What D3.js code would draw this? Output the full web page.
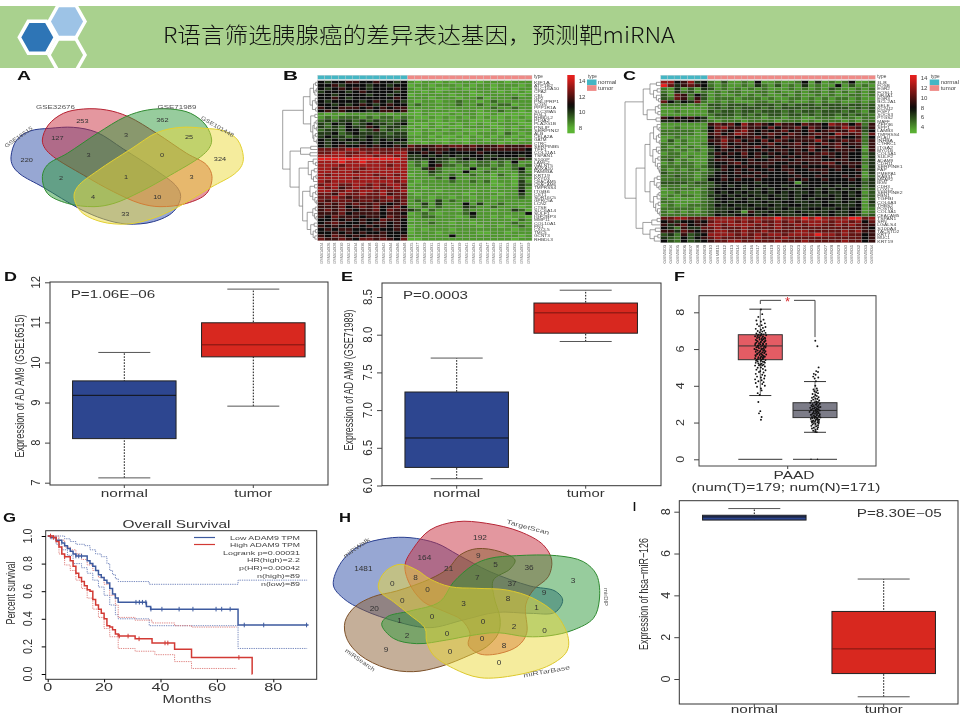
<!DOCTYPE html>
<html><head><meta charset="utf-8">
<script src="https://cdn.jsdelivr.net/npm/d3@7/dist/d3.min.js"></script>
<style>html,body{margin:0;padding:0;background:#fff}svg{display:block;font-family:"Liberation Sans",Arial,sans-serif}</style>
</head><body><svg id="c" width="960" height="720"></svg>
<script>
/* ---------- DATA ---------- */
const titleText="R语言筛选胰腺癌的差异表达基因，预测靶miRNA";
// panel A venn
const vennASets=["GSE16515","GSE32676","GSE71989","GSE101448"];
const vennALabels=[[80,479,"220"],[247,363,"253"],[487,361,"362"],[660,477,"324"],[172,415,"127"],[378,404,"3"],[567,411,"25"],[266,464,"3"],[486,464,"0"],[183,535,"2"],[378,532,"1"],[575,531,"3"],[279,592,"4"],[472,592,"10"],[376,643,"33"]];
const aBlue=[[33,470],[50,420],[90,393],[150,385],[220,382],[290,397],[370,447],[470,512],[530,560],[542,590],[520,635],[460,665],[380,672],[310,657],[240,627],[130,562],[60,522],[38,497]];
const aRed=[[127,420],[145,375],[190,340],[250,327],[320,330],[385,350],[470,400],[560,460],[620,495],[636,530],[620,580],[560,610],[480,620],[420,610],[340,575],[250,525],[160,470],[135,445]];
const aGreen=[[635,420],[617,375],[572,340],[512,327],[442,330],[377,350],[292,400],[202,460],[142,495],[127,530],[142,580],[202,610],[282,620],[342,610],[422,575],[512,525],[602,470],[627,445]];
const aYellow=[[730,470],[713,420],[673,393],[613,385],[543,382],[473,397],[393,447],[293,512],[233,560],[222,590],[243,635],[303,665],[383,672],[453,657],[523,627],[633,562],[703,522],[725,497]];
// panel H venn
const vennHLabels=[[100,190,"1481"],[450,98,"192"],[283,156,"164"],[445,150,"9"],[356,190,"21"],[497,178,"5"],[597,186,"36"],[729,226,"3"],[257,217,"8"],[187,236,"0"],[293,253,"0"],[442,218,"7"],[546,236,"37"],[642,263,"9"],[217,287,"0"],[401,294,"3"],[534,280,"8"],[620,308,"1"],[133,311,"20"],[306,334,"0"],[209,347,"1"],[459,349,"0"],[231,390,"2"],[351,386,"0"],[552,365,"2"],[644,375,"0"],[456,400,"0"],[522,422,"8"],[168,434,"9"],[360,440,"0"],[507,473,"0"]];
const hBlue=[[10,240],[35,170],[90,122],[170,100],[240,98],[320,115],[385,150],[480,200],[600,243],[675,258],[698,285],[675,322],[600,325],[500,322],[400,345],[300,368],[200,350],[100,315],[40,280]];
const hRed=[[225,180],[250,130],[300,75],[380,50],[470,55],[570,80],[640,120],[665,165],[655,215],[610,255],[587,300],[590,385],[565,422],[510,445],[450,447],[415,420],[420,385],[395,345],[340,318],[280,290],[238,235]];
const hBrown=[[45,350],[75,305],[130,275],[200,258],[300,222],[355,190],[390,150],[440,131],[510,140],[555,165],[540,192],[490,225],[492,275],[510,340],[505,385],[470,425],[420,450],[330,485],[250,500],[170,490],[90,450],[50,400]];
const hGreen=[[370,232],[430,180],[480,160],[560,152],[680,152],[760,170],[800,210],[808,285],[790,340],[730,375],[660,392],[590,395],[500,383],[420,392],[350,405],[260,416],[190,400],[155,358],[172,335],[240,318],[330,290]];
const hYellow=[[145,240],[165,200],[210,178],[260,195],[300,222],[360,245],[440,250],[530,255],[610,280],[680,330],[715,400],[710,440],[660,480],[560,510],[450,518],[370,490],[310,450],[290,410],[285,370],[240,330],[190,290],[150,260]];
// heat map B
const bLevels=[8,8.1,8.5,9.3,10.1,10.9,11.7,12.5,13.4,14.6];
const bRows=[
"5455665565545212212122212221222","5564555455455122122212122122212","5456565455565212211221222122122","4555456555545221212222122212121",
"5545555455455122222122112222212","5565455555565222122212231222322","5455554565454212212232212322222","5545456545655232222232232233122",
"6556665656566222212222222322322","5646555456656212222122212232212","2121222222122112111212211211111","2323332323323211212121212112121",
"3434434343334122112122111212112","4354534544345211211212121122211","4343544653443121212112222112121","3443553463433212121221111212122",
"4453454444344112212212122213212","4544344544444222121121212122121","5454554545455212211211221221212","5455445545544221221221222212122",
"5456556565565766676776766676667","7777887777777665666566656666665","7788778787788556565555565555555","8888788878878445454544554455545",
"9999999999998444544345454544464","8889889888888232543233233232522","8887888888788232563323233232323","8878887888888224632222522322352",
"8888878888888222432225223222242","8788888878878122322322322132133","8888878887888222232522222122132","8788888888878212222322323122142",
"7887788787887122222222222112143","8786787787787221222222222222242","8877878878778122212222122122252","7768778778677212222221222212242",
"7787677777877222122122122122232","7677767767767232242322222222222","6767676676567224242225242232222","6667567675675223232224322322212",
"6767656675766431322213222122431","6667566665665123212223522222225","6576665665766223322212422121221","5565656557665122222222222222132",
"5676556566565222322122122222322","6565565656565122222222212212232","5656655565565121222122222222122","5565656556555122212222211221222",
"6576565666556222222522222222212","7667657767657112222222222222122"];
const bNames=["KIF1A","ATP1B2","SLC16A10","CPA2","CEL","GP2","PNLIPRP1","SCGN","PPP1R1A","SLC39A5","FGL1","RHBDL2","PDIA2","PLA2G1B","PNLIP","SERPINI2","ALB","CELA2A","GATM","CTRC","SERPINB5","TFF1","COL11A1","TSPAN1","S100P","LAMC2","GALNT5","ANXA10","FAM83A","KRT19","FXYD3","CEACAM5","CEACAM6","TMPRSS4","ITGB6","CST1","SDR16C5","GPRC5A","LCN2","CTSE","SLC6A14","SULF1","IGF2BP3","MMP11","COL10A1","FN1","CXCL5","TMC5","GCNT3","RHBDL3"];
const bCols=["GSM414924","GSM414926","GSM414928","GSM414930","GSM414932","GSM414934","GSM414936","GSM414938","GSM414940","GSM414942","GSM414944","GSM414946","GSM414948","GSM414925","GSM414927","GSM414929","GSM414931","GSM414933","GSM414935","GSM414937","GSM414939","GSM414941","GSM414943","GSM414945","GSM414947","GSM414949","GSM414951","GSM414953","GSM414955","GSM414957","GSM414959"];
const bTree=[1,[.41,[.22,[.12,[.06,0,0],[.08,[.04,0,0],0]],[.15,[.07,0,[.03,0,0]],[.06,0,0]]],[.2,[.08,0,0],[.14,[.1,[.05,0,0],[.04,0,0]],[.11,[.06,0,0],[.04,0,0]]]]],[.79,[.49,[.2,0,0],[.22,0,0]],[.53,[.27,[.13,0,[.06,0,0]],[.18,[.1,0,0],[.12,[.05,0,0],0]]],[.43,[.22,[.09,0,0],[.14,[.06,0,0],[.08,0,[.04,0,0]]]],[.3,[.14,[.07,0,0],[.09,0,[.05,0,0]]],[.2,[.1,0,0],[.13,[.06,0,0],[.08,0,0]]]]]]]];
// heat map C
const cLevels=[3.2,4,5,6,7,8,9.3,10.6,12,14.5];
const cRows=[
"88568452131121511211251412125112","97467652121121421312141211513121","21413143121212121112121213211212","21423121212211221211212212121212",
"31762531211212121121211212112212","32762631222122212112212121221211","75354721212111221212112121211212","22221213323332333232333233323323",
"11111112323233323233323323332323","11211113233233233323233233323213","11111112333232323323323233232322","65656541222122212212211222122122",
"44545432122212222122212122212122","11111116767586765766576658775726","11211115786676657566757656687636","22222125765786565675657567668735",
"22222116756876567657656765876727","11211115676566756576667567655625","13121116686756575765666865676726","22121125675665567566756576756626",
"21212114576566756656667656765616","22121213565665565665657565666516","12211114656575656565665676565524","22212113565565645656566656565 14".replace(" ","5"),
"23121114666556556665666655665524","12122114556756666556656677566624","22222124565565565565565556656514","21212213465656556566556665655624",
"32222123555655655556555565555514","22322124565566565555655655565613","22222125565655655556565565556524","33332333555555455555155555555534",
"22212223454545545545545545454524","12222124555545454554455454545423","11211123545454454545445454454513","12122124454545445445455445454523",
"21111123555454545545454555455413","22111123454554454455445454454514","12112223545445445445544455444513","22222123444544554454445544545512",
"21212123445416445444544445445412","22222223544545454544454545445423","77887778888888888988898988889978","56455657888787877878788887887857",
"64675668878888787877878877878766","54264477877787777877777777777765","66476567887787787777887777787866","34263458888787878878888988787756",
"43253567877777877787777777777756","53253456778877777877787777787756"];
const cNames=["IL8","FOSB","EGR2","FOSL1","NR4A1","EGR3","BCL2A1","SELE","KCNJ2","FGF7","SOCS3","PTGS2","MAFF","ZFP36","SPP1","LAMB3","TMPRSS4","PLAU","INHBA","CTHRC1","ITGA2","MYO1B","COL5A1","SULF2","ADAM9","CDH11","SERPINE1","FAP","PMEPA1","RAB31","MFAP2","BGN","CDH3","LOXL2","SERPINE2","FBN1","TGFBI","COL6A3","THBS2","POSTN","COL3A1","CEACAM5","TSPAN1","SFN","LGALS4","S100A4","TACSTD2","KRT7","MUC1","KRT19"];
const cCols=["GSM803","GSM804","GSM805","GSM806","GSM807","GSM808","GSM809","GSM810","GSM811","GSM812","GSM813","GSM814","GSM815","GSM816","GSM817","GSM818","GSM819","GSM820","GSM821","GSM822","GSM823","GSM824","GSM825","GSM826","GSM827","GSM828","GSM829","GSM830","GSM831","GSM832","GSM833","GSM834"];
const cTree=[1,[.49,[.3,[.12,0,0],[.2,[.1,0,0],[.12,0,[.06,0,0]]]],[.38,[.15,[.07,0,0],[.08,0,0]],[.13,0,0]]],[.69,[.44,[.3,[.2,[.1,0,[.05,0,0]],[.12,[.06,0,0],[.04,0,0]]],[.22,[.12,0,[.07,0,0]],[.15,[.08,0,0],[.09,0,[.05,0,[.03,0,0]]]]]],[.3,[.18,[.1,0,0],[.11,0,[.05,0,0]]],[.2,[.1,[.05,0,0],0],[.14,[.07,0,0],[.09,0,[.04,0,0]]]]]],[.5,[.25,[.1,0,0],0],[.3,[.15,0,0],[.18,[.08,0,0],0]]]]];
const typeNames=["normal","tumor"];
// box stats: [low whisker, q1, median, q3, high whisker]
const dStats=[[7.12,8.1,9.18,9.54,10.25],[8.91,10.14,10.44,10.99,11.83]];
const eStats=[[6.09,6.24,6.63,7.24,7.69],[7.91,8.02,8.29,8.42,8.59]];
const iStats=[[7.6,7.6,7.75,7.83,8.15],[-.85,.26,1.44,3.23,4.78]];
const fStats=[[3.47,5.42,6.17,6.78,8.17],[1.47,2.27,2.66,3.08,4.23]];
const dTicks=[7,8,9,10,11,12], eTicks=[6,6.5,7,7.5,8,8.5], fTicks=[0,2,4,6,8], iTicks=[0,2,4,6,8];
// panel F jittered expression: value, jitter
const fTumor=[8.15,.1,7.9,.3,7.75,-.3,7.6,.5,7.55,-.6,7.5,.1,7.4,.7,7.35,-.5,7.3,.2,7.25,-.2,7.2,.8,7.15,.4,7.1,-.7,7.05,.1,7.0,.6,6.98,-.4,6.95,.3,6.9,-.1,6.88,.8,6.85,-.6,6.82,.2,6.8,.5,6.78,-.3,6.75,.9,6.72,0,6.7,-.8,6.68,.4,6.65,-.2,6.62,.7,6.6,-.5,6.58,.2,6.55,.5,6.52,-.1,6.5,-.7,6.48,.3,6.45,.8,6.42,-.4,6.4,.1,6.38,.6,6.35,-.6,6.32,-.2,6.3,.4,6.28,.9,6.25,0,6.22,-.8,6.2,.3,6.18,-.4,6.15,.6,6.12,.1,6.1,-.6,6.08,.8,6.05,-.2,6.02,.4,6,-.9,5.98,.2,5.95,.6,5.92,-.4,5.9,0,5.88,.8,5.85,-.7,5.82,.3,5.8,-.2,5.78,.6,5.75,.1,5.72,-.5,5.7,.9,5.68,-.1,5.65,.4,5.62,-.7,5.6,.2,5.58,.7,5.55,-.3,5.52,.5,5.5,-.8,5.48,0,5.45,.4,5.42,-.5,5.4,.8,5.35,.1,5.32,-.4,5.3,.6,5.25,-.7,5.2,.2,5.15,.5,5.12,-.2,5.1,-.8,5.05,.7,5,.1,4.98,-.4,4.92,.4,4.88,-.6,4.85,.8,4.8,0,4.75,-.2,4.72,.5,4.65,-.7,4.6,.3,4.55,.7,4.5,-.5,4.45,.1,4.4,.6,4.35,-.8,4.3,.2,4.25,-.3,4.2,.5,4.15,-.7,4.1,.3,4.0,.7,3.95,-.5,3.85,.1,3.75,.2,3.6,-.4,3.5,-.1,3.12,-.3,2.62,0,2.5,-.2,2.3,.2,2.15,.1,
6.77,.15,6.71,-.45,6.66,.35,6.61,-.15,6.56,.75,6.51,.25,6.46,-.55,6.41,.65,6.36,.05,6.31,-.75,6.26,.45,6.21,-.25,6.16,.85,6.11,-.35,6.06,.55,6.01,.15,5.96,-.65,5.91,.45,5.86,-.05,5.81,.65,5.76,-.45,5.71,.25,5.66,-.75,5.61,.55,5.56,.05,5.51,.35,5.46,-.35,5.41,.15,5.36,-.65,5.31,.4,5.26,.7,5.21,-.3,5.16,0,5.11,.3];
const fNormal=[6.45,.05,6.15,.4,5.0,.6,4.8,.2,4.75,.5,4.65,-.2,4.6,.1,4.5,-.3,4.45,.55,4.4,-.05,4.25,.15,4.0,.05,3.85,.3,3.8,-.25,3.75,.4,3.7,-.1,3.65,.2,3.6,.5,3.55,-.4,3.5,.05,3.45,.3,3.4,-.2,3.38,.6,3.35,-.5,3.3,.1,3.28,.4,3.25,-.3,3.2,.7,3.18,-.6,3.15,.2,3.12,.5,3.1,-.1,3.08,-.8,3.05,.3,3.02,.8,3,-.4,2.98,.1,2.95,.6,2.92,-.6,2.9,-.2,2.88,.4,2.85,.9,2.82,0,2.8,-.8,2.78,.3,2.75,-.4,2.72,.6,2.7,.1,2.68,-.6,2.65,.8,2.62,-.2,2.6,.4,2.58,-.9,2.55,.2,2.52,.6,2.5,-.4,2.48,0,2.45,.8,2.42,-.7,2.4,.3,2.38,-.2,2.35,.6,2.32,.1,2.3,-.5,2.28,.9,2.25,-.1,2.22,.4,2.2,-.7,2.18,.2,2.15,.7,2.12,-.3,2.1,.5,2.08,-.6,2.05,0,2.02,.4,2,-.5,1.95,.6,1.92,.1,1.9,-.4,1.85,.5,1.82,-.6,1.8,.2,1.75,.5,1.72,-.2,1.68,-.5,1.65,.4,1.6,.1,1.55,-.3,1.5,.05,1.48,.3,
2.97,.25,2.87,-.45,2.83,.65,2.77,-.15,2.73,.35,2.67,-.7,2.63,.15,2.57,.55,2.53,-.25,2.47,.35,2.43,-.55,2.37,.75,2.33,-.1,2.27,.25,2.23,-.45,2.17,.5,2.13,.1,2.07,-.35,2.03,.65,1.97,-.2];
// panel G survival
const lowT=[0,1,3,5,6,7,8,9,10,14,15,16,17,18,19,20,21,22,23,24,25,35,36.5,67.5,92.5];
const lowS=[1,.99,.97,.95,.93,.91,.89,.87,.855,.82,.80,.78,.75,.72,.70,.68,.66,.62,.58,.55,.52,.49,.47,.355,.355];
const lowUpT=[1,4,6,8,10,13,15,17,19,21,22,23,24,25,36,67.5,92];
const lowUpS=[1,1,.98,.96,.94,.93,.9,.87,.85,.80,.75,.72,.69,.67,.65,.68,.68];
const lowLoT=[1,3,5,7,9,12,14,16,18,20,22,24,25,36,67.5,92];
const lowLoS=[.98,.94,.9,.86,.8,.77,.73,.68,.63,.57,.50,.43,.40,.35,.185,.185];
const highT=[0,2,3,4,5,6,8,9,10,11,12,13,14,15,16,17,18,19,20,21,22,23,24,25,31,37,45,51,72.5,72.6];
const highS=[1,.99,.96,.92,.87,.85,.82,.78,.73,.70,.67,.64,.61,.60,.54,.50,.47,.44,.40,.35,.34,.32,.29,.275,.255,.225,.18,.12,0,0];
const highUpT=[2,4,6,8,10,12,14,16,18,20,22,24,25,31,37,45,51,67];
const highUpS=[1,.97,.92,.9,.87,.83,.79,.75,.70,.65,.57,.50,.41,.39,.37,.35,.34,.34];
const highLoT=[2,4,6,8,10,12,14,16,18,20,22,25,31,38,45,51,67];
const highLoS=[.98,.87,.79,.75,.68,.62,.55,.47,.41,.33,.27,.185,.165,.14,.09,.04,.04];
const lowCensor=[[10,.855],[11,.855],[12,.855],[31.3,.52],[32.5,.52],[33.6,.52],[34.8,.52],[36.6,.47],[40.5,.47],[46.6,.47],[51.5,.47],[59.7,.47],[61.7,.47],[64.7,.47],[69.7,.355],[76.6,.355],[91.8,.355]];
const highCensor=[[1,1],[2,.99],[6,.85],[25.4,.275],[28.5,.275],[32.4,.255],[41.6,.225],[42.6,.225],[67.8,.12]];
const gYTicks=[0,.2,.4,.6,.8,1], gXTicks=[0,20,40,60,80];
const gLegend=["Low ADAM9 TPM","High ADAM9 TPM","Logrank p=0.00031","HR(high)=2.2","p(HR)=0.00042","n(high)=89","n(low)=89"];

/* ---------- HELPERS ---------- */
const svg=d3.select("#c");
const root=svg.append("g").style("filter","blur(0.4px)");
function txt(g,x,y,s,o={}){
  const t=g.append("text").attr("x",0).attr("y",0).attr("dominant-baseline","central")
    .attr("text-anchor",o.anchor||"middle").attr("font-size",o.size||10).attr("fill",o.fill||"#222").text(s);
  if(o.weight)t.attr("font-weight",o.weight);
  if(o.family)t.style("font-family",o.family);
  if(o.len)t.attr("textLength",o.len).attr("lengthAdjust","spacingAndGlyphs");
  t.attr("transform",`translate(${x},${y})`+(o.rot?` rotate(${o.rot})`:""));
  return t;
}
function letter(x,y,s,w){txt(root,x,y,s,{anchor:"start",size:12,weight:"bold",fill:"#111",len:w});}

/* ---------- HEADER ---------- */
root.append("rect").attr("x",0).attr("y",6).attr("width",960).attr("height",62).attr("fill","#a9d18e");
const clip=svg.append("clipPath").attr("id","hd");clip.append("rect").attr("x",0).attr("y",6).attr("width",960).attr("height",62);
const hg=root.append("g").attr("clip-path","url(#hd)");
const hexPath=(cx,cy,w,h)=>d3.line()([[cx-w,cy],[cx-w/2,cy-h],[cx+w/2,cy-h],[cx+w,cy],[cx+w/2,cy+h],[cx-w/2,cy+h]])+"Z";
hg.append("path").attr("d",hexPath(67,55,18,16)).attr("fill","none").attr("stroke","#fff").attr("stroke-width",3.5);
hg.append("path").attr("d",hexPath(37.3,37.3,18,16)).attr("fill","#2e75b6").attr("stroke","#fff").attr("stroke-width",3.5);
hg.append("path").attr("d",hexPath(67,21.5,18,16)).attr("fill","#9dc3e6").attr("stroke","#fff").attr("stroke-width",3.5);
txt(svg,163,33,titleText,{anchor:"start",size:21.5,fill:"#111",family:'"Noto Sans CJK SC","Noto Sans",sans-serif',len:512}).attr("font-weight",300);

/* ---------- LETTERS ---------- */
letter(17,76,"A",14);letter(283,76,"B",15);letter(623,76,"C",13);letter(4,277,"D",13);letter(341,277,"E",12);letter(674,277,"F",11);letter(3,518,"G",13);letter(339,518,"H",12);letter(633,507,"I",3);

/* ---------- VENN A ---------- */
const vx=d3.scaleLinear().domain([0,840]).range([0,280]), vy=d3.scaleLinear().domain([0,720]).range([0,240]);
const va=root.append("g");
const aLine=d3.line().curve(d3.curveCatmullRomClosed.alpha(.5)).x(d=>vx(d[0])).y(d=>vy(d[1]));
[[aBlue,"#2f4fa8","#26388c"],[aRed,"#c9303f","#b52030"],[aGreen,"#2f9a3c","#2f8a30"],[aYellow,"#ecd93c","#e2d030"]]
  .forEach(s=>va.append("path").attr("d",aLine(s[0])).attr("fill",s[1]).attr("fill-opacity",.5).attr("stroke",s[2]).attr("stroke-width",1));
vennALabels.forEach(l=>txt(va,vx(l[0]),vy(l[1]),l[2],{size:6,fill:"#333",len:l[2].length*4.1}));
txt(va,18.5,137,vennASets[0],{size:5.5,fill:"#555",rot:-35,len:33});
txt(va,55.5,107,vennASets[1],{size:5.5,fill:"#555",len:39});
txt(va,177,106.5,vennASets[2],{size:5.5,fill:"#555",len:39});
txt(va,217.5,126.5,vennASets[3],{size:5.5,fill:"#555",rot:30,len:37});

/* ---------- HEAT MAPS ---------- */
function tree(g,node,xs,ys){
  let next=0;
  (function walk(n){
    if(n===0)return{y:ys(next++)+ys.bandwidth()/2,h:0};
    const a=walk(n[1]),b=walk(n[2]),h=n[0];
    g.append("path").attr("d",d3.line()([[xs(a.h),a.y],[xs(h),a.y],[xs(h),b.y],[xs(b.h),b.y]])).attr("fill","none").attr("stroke","#777").attr("stroke-width",.7);
    return{y:(a.y+b.y)/2,h};
  })(node);
}
function heat(o){
  const g=root.append("g");
  const rowsN=o.rows.length,colsN=o.rows[0].length;
  const xs=d3.scaleBand().domain(d3.range(colsN)).range([o.x0,o.x1]);
  const ys=d3.scaleBand().domain(d3.range(rowsN)).range([o.y0,o.y1]);
  const col=d3.scaleLinear().domain(o.domain).range(["#5cb434","#0a0a0a","#e8201e"]).clamp(true);
  o.rows.forEach((r,i)=>{for(let j=0;j<colsN;j++){
    g.append("rect").attr("x",xs(j)).attr("y",ys(i)).attr("width",xs.bandwidth()).attr("height",ys.bandwidth())
     .attr("fill",col(o.levels[+r[j]])).attr("stroke","#a8a8a8").attr("stroke-width",.3);
  }});
  d3.range(colsN).forEach(j=>g.append("rect").attr("x",xs(j)).attr("y",75.3).attr("width",xs.bandwidth()).attr("height",4)
     .attr("fill",j<o.nNormal?"#45b6c4":"#ef8a87").attr("stroke","#c8c8c8").attr("stroke-width",.3));
  txt(g,o.x1+2,76.5,"type",{anchor:"start",size:4.5,fill:"#444",len:9});
  o.names.forEach((n,i)=>txt(g,o.x1+2,ys(i)+ys.bandwidth()/2,n,{anchor:"start",size:4.4,fill:"#444",len:n.length*3.15}));
  o.cols.forEach((n,j)=>txt(g,xs(j)+xs.bandwidth()/2,o.y1+2,n,{anchor:"end",size:4.2,fill:"#666",rot:-90,len:o.colLen}));
  tree(g,o.tree,d3.scaleLinear().domain([0,1]).range([o.x0,o.treeX]),ys);
  // colour bar
  const id="grad"+o.key;
  const gr=svg.append("linearGradient").attr("id",id).attr("x1",0).attr("x2",0).attr("y1",1).attr("y2",0);
  d3.range(0,1.001,.05).forEach(t=>gr.append("stop").attr("offset",t).attr("stop-color",col(o.barDomain[0]+t*(o.barDomain[1]-o.barDomain[0]))));
  g.append("rect").attr("x",o.barX).attr("y",75).attr("width",o.barW).attr("height",58.3).attr("fill",`url(#${id})`);
  const by=d3.scaleLinear().domain(o.barDomain).range([133.3,75]);
  o.barTicks.forEach(t=>txt(g,o.barX+o.barW+4,by(t),String(t),{anchor:"start",size:4.6,fill:"#444",len:String(t).length*3.4}));
  txt(g,o.swX+1,76,"type",{anchor:"start",size:4.5,fill:"#444",len:9});
  typeNames.forEach((n,i)=>{
    g.append("rect").attr("x",o.swX).attr("y",79.5+i*5.7).attr("width",9.5).attr("height",5.7).attr("fill",i?"#ef8a87":"#45b6c4");
    txt(g,o.swX+11,82.4+i*5.9,n,{anchor:"start",size:4.6,fill:"#444",len:n.length*3.05});
  });
}
heat({key:"B",rows:bRows,levels:bLevels,names:bNames,cols:bCols,tree:bTree,nNormal:13,x0:317.7,x1:532,y0:80.7,y1:240.7,treeX:282.7,domain:[8,10.9,14.6],barX:567.3,barW:7.4,barDomain:[7.4,14.8],barTicks:[14,12,10,8],swX:587,colLen:21});
heat({key:"C",rows:cRows,levels:cLevels,names:cNames,cols:cCols,tree:cTree,nNormal:7,x0:660.7,x1:875.3,y0:80.7,y1:242.7,treeX:625,domain:[3.2,8,14.5],barX:910,barW:6.7,barDomain:[2.9,14.7],barTicks:[14,12,10,8,6,4],swX:929.7,colLen:19});

/* ---------- BOX PLOTS ---------- */
function box(o){
  const g=root.append("g");
  const y=d3.scaleLinear().domain(o.yd).range(o.yr);
  const x=d3.scaleLinear().domain([0,1]).range(o.cx);
  g.append("rect").attr("x",o.f[0]).attr("y",o.f[2]).attr("width",o.f[1]-o.f[0]).attr("height",o.f[3]-o.f[2]).attr("fill","none").attr("stroke","#333").attr("stroke-width",1);
  const ax=g.append("g").attr("transform",`translate(${o.f[0]},0)`).call(d3.axisLeft(y).tickValues(o.ticks).tickSize(5).tickFormat(o.fmt||(d=>d)));
  ax.select(".domain").remove();ax.selectAll("line").attr("stroke","#444");
  ax.selectAll("text").remove();
  o.ticks.forEach(t=>txt(g,o.f[0]-o.tickOff,y(t),(o.fmt||(d=>d))(t),{size:12,fill:"#333",rot:-90,len:o.tickLen(t)}));
  [0,1].forEach(i=>{
    const s=o.stats[i],c=x(i),hw=o.bw/2,col=i?"#d8281f":"#2d4690",cw=o.capw/2;
    g.append("line").attr("x1",c).attr("x2",c).attr("y1",y(s[0])).attr("y2",y(s[4])).attr("stroke","#111").attr("stroke-dasharray","1.6,1.4");
    [s[0],s[4]].forEach(v=>{if(s[0]===s[1]&&v===s[0])return;g.append("line").attr("x1",c-cw).attr("x2",c+cw).attr("y1",y(v)).attr("y2",y(v)).attr("stroke","#555");});
    g.append("rect").attr("x",c-hw).attr("width",2*hw).attr("y",y(s[3])).attr("height",y(s[1])-y(s[3])).attr("fill",col).attr("stroke","#222");
    g.append("line").attr("x1",c-hw).attr("x2",c+hw).attr("y1",y(s[2])).attr("y2",y(s[2])).attr("stroke",i?"#7a1510":"#111");
    g.append("line").attr("x1",c).attr("x2",c).attr("y1",o.f[3]).attr("y2",o.f[3]+3).attr("stroke","#444");
    txt(g,c,o.labY,typeNames[i],{size:11,fill:"#333",len:i?38:47});
  });
  txt(g,o.axisX,o.axisCy,o.axisLabel,{size:12.5,fill:"#333",rot:-90,len:o.axisLen});
  txt(g,o.p[0],o.p[1],o.p[2],{size:10.5,fill:"#333",anchor:"start",len:o.p[3]});
}
box({stats:dStats,yd:[7,12],yr:[482.7,282.3],cx:[124.3,253.3],f:[50,328,282,485],ticks:dTicks,tickOff:14,tickLen:t=>String(t).length*6.2,bw:103.5,capw:52,labY:493,axisX:20,axisCy:386,axisLabel:"Expression of AD AM9 (GSE16515)",axisLen:143,p:[70.7,294,"P=1.06E−06",84.5]});
box({stats:eStats,yd:[6,8.5],yr:[485.5,297],cx:[456.7,585.7],f:[382,661,283,485.7],ticks:eTicks,tickOff:14,fmt:d3.format(".1f"),tickLen:()=>16,bw:103.5,capw:52,labY:493,axisX:349,axisCy:380,axisLabel:"Expression of AD AM9 (GSE71989)",axisLen:141,p:[403,295,"P=0.0003",65]});
box({stats:iStats,yd:[0,8],yr:[679,511.7],cx:[754.3,883.7],f:[679.3,958,500.7,704],ticks:iTicks,tickOff:13,tickLen:()=>7,bw:103.5,capw:52,labY:709,axisX:644,axisCy:594,axisLabel:"Expression of hsa−miR−126",axisLen:112,p:[856.7,513,"P=8.30E−05",85]});

/* ---------- PANEL F ---------- */
(function(){
  const g=root.append("g"),f=[699,876,295.7,466];
  const y=d3.scaleLinear().domain([0,8]).range([459.3,312.3]);
  g.append("rect").attr("x",f[0]).attr("y",f[2]).attr("width",f[1]-f[0]).attr("height",f[3]-f[2]).attr("fill","none").attr("stroke","#444");
  const ax=g.append("g").attr("transform",`translate(${f[0]},0)`).call(d3.axisLeft(y).tickValues(fTicks).tickSize(5));
  ax.select(".domain").remove();ax.selectAll("text").remove();ax.selectAll("line").attr("stroke","#444");
  fTicks.forEach(t=>txt(g,680,y(t),t,{size:11,fill:"#333",rot:-90,len:7}));
  const cx=[760.3,815],cols=["#e45c64","#7c7c88"],jit=[6.5,6];
  [0,1].forEach(i=>{
    const s=fStats[i],c=cx[i];
    g.append("line").attr("x1",c).attr("x2",c).attr("y1",y(s[0])).attr("y2",y(s[4])).attr("stroke","#333").attr("stroke-width",.7);
    [s[0],s[4]].forEach(v=>g.append("line").attr("x1",c-11).attr("x2",c+11).attr("y1",y(v)).attr("y2",y(v)).attr("stroke","#333"));
    g.append("rect").attr("x",c-22).attr("width",44).attr("y",y(s[3])).attr("height",y(s[1])-y(s[3])).attr("fill",cols[i]).attr("stroke","#333");
    g.append("line").attr("x1",c-22).attr("x2",c+22).attr("y1",y(s[2])).attr("y2",y(s[2])).attr("stroke","#333");
    g.append("line").attr("x1",c-22).attr("x2",c+22).attr("y1",y(0)).attr("y2",y(0)).attr("stroke","#333");
    const pts=i?fNormal:fTumor;
    for(let k=0;k<pts.length;k+=2)g.append("circle").attr("cx",c+pts[k+1]*jit[i]).attr("cy",y(pts[k])).attr("r",.95).attr("fill","#111");
  });
  g.append("circle").attr("cx",811).attr("cy",y(0)).attr("r",.7).attr("fill","#111");
  g.append("circle").attr("cx",817.5).attr("cy",y(0)).attr("r",.7).attr("fill","#111");
  g.append("path").attr("d",d3.line()([[cx[0],y(8.45)],[cx[0],y(8.65)],[cx[1],y(8.65)],[cx[1],y(6.65)]])).attr("fill","none").attr("stroke","#444").attr("stroke-width",1);
  g.append("rect").attr("x",781).attr("y",y(8.65)-3).attr("width",13).attr("height",6).attr("fill","#fff");
  txt(g,787.5,y(8.6),"*",{size:13,fill:"#d8282c"});
  g.append("line").attr("x1",787.7).attr("x2",787.7).attr("y1",f[3]).attr("y2",f[3]+3).attr("stroke","#444");
  txt(g,794,475.5,"PAAD",{size:10,fill:"#333",len:41});
  txt(g,786,487,"(num(T)=179; num(N)=171)",{size:10,fill:"#333",len:189});
})();

/* ---------- PANEL G ---------- */
(function(){
  const g=root.append("g"),f=[45.7,316.7,530.7,679.3];
  const x=d3.scaleLinear().domain([0,80]).range([47.7,273.3]),y=d3.scaleLinear().domain([0,1]).range([674,536]);
  const ln=d3.line().curve(d3.curveStepAfter).x(d=>x(d[0])).y(d=>y(d[1]));
  const zip=(a,b)=>a.map((v,i)=>[v,b[i]]);
  const dot=(a,b,c)=>g.append("path").attr("d",ln(zip(a,b))).attr("fill","none").attr("stroke",c).attr("stroke-width",.9).attr("stroke-dasharray","1.3,1");
  dot(lowUpT,lowUpS,"#6a7eb8");dot(lowLoT,lowLoS,"#6a7eb8");dot(highUpT,highUpS,"#dc7a78");dot(highLoT,highLoS,"#dc7a78");
  g.append("path").attr("d",ln(zip(lowT,lowS))).attr("fill","none").attr("stroke","#3d5a9f").attr("stroke-width",1.5);
  g.append("path").attr("d",ln(zip(highT,highS))).attr("fill","none").attr("stroke","#d23a34").attr("stroke-width",1.5);
  lowCensor.forEach(c=>g.append("line").attr("x1",x(c[0])).attr("x2",x(c[0])).attr("y1",y(c[1])-2.3).attr("y2",y(c[1])+2.3).attr("stroke","#3d5a9f"));
  highCensor.forEach(c=>g.append("line").attr("x1",x(c[0])).attr("x2",x(c[0])).attr("y1",y(c[1])-2.3).attr("y2",y(c[1])+2.3).attr("stroke","#d23a34"));
  g.append("rect").attr("x",f[0]).attr("y",f[2]).attr("width",f[1]-f[0]).attr("height",f[3]-f[2]).attr("fill","none").attr("stroke","#333").attr("stroke-width",1);
  const ay=g.append("g").attr("transform",`translate(${f[0]},0)`).call(d3.axisLeft(y).tickValues(gYTicks).tickSize(4));
  ay.select(".domain").remove();ay.selectAll("text").remove();
  const ax=g.append("g").attr("transform",`translate(0,${f[3]})`).call(d3.axisBottom(x).tickValues(gXTicks).tickSize(3));
  ax.select(".domain").remove();ax.selectAll("text").remove();
  gYTicks.forEach(t=>txt(g,28,y(t),d3.format(".1f")(t),{size:12,fill:"#333",rot:-90,len:15}));
  gXTicks.forEach(t=>txt(g,x(t),687,t,{size:11,fill:"#333",len:t?18:9}));
  txt(g,176.5,524,"Overall Survival",{size:11,fill:"#333",len:108});
  txt(g,187,699,"Months",{size:10.5,fill:"#333",len:49});
  txt(g,10,593,"Percent survival",{size:13.5,fill:"#333",rot:-90,len:63});
  gLegend.forEach((s,i)=>txt(g,300,[538,545,552.7,560.3,568,575.7,583.7][i],s,{anchor:"end",size:6,fill:"#444",len:[70,70,77,53,61,43,39][i]}));
  g.append("line").attr("x1",194).attr("x2",215).attr("y1",537.5).attr("y2",537.5).attr("stroke","#3d5a9f").attr("stroke-width",1.2);
  g.append("line").attr("x1",194).attr("x2",215).attr("y1",544.5).attr("y2",544.5).attr("stroke","#d23a34").attr("stroke-width",1.2);
})();

/* ---------- VENN H ---------- */
(function(){
  const g=root.append("g");
  const hx=d3.scaleLinear().domain([0,870]).range([330,620]),hy=d3.scaleLinear().domain([0,645]).range([505,720]);
  const ln=d3.line().curve(d3.curveCatmullRomClosed.alpha(.5)).x(d=>hx(d[0])).y(d=>hy(d[1]));
  [[hBlue,"#2f4fa8","#2a3f90"],[hRed,"#c8303f","#b52535"],[hBrown,"#8c6034","#7c5028"],[hGreen,"#2f9a3c","#2f8a30"],[hYellow,"#ecd93c","#dcc82c"]]
   .forEach(s=>g.append("path").attr("d",ln(s[0])).attr("fill",s[1]).attr("fill-opacity",.5).attr("stroke",s[2]).attr("stroke-width",1));
  vennHLabels.forEach(l=>txt(g,hx(l[0]),hy(l[1]),l[2],{size:6.5,fill:"#333",len:l[2].length*4.6}));
  txt(g,hx(80),hy(128),"miRWalk",{size:6,fill:"#555",rot:-35,len:31});
  txt(g,hx(594),hy(67),"TargetScan",{size:6,fill:"#555",rot:15,len:44});
  txt(g,hx(828),hy(276),"mirDIP",{size:6,fill:"#555",rot:90,len:18});
  txt(g,hx(650),hy(499),"miRTarBase",{size:6,fill:"#555",rot:-10,len:47});
  txt(g,hx(90),hy(465),"miRSearch",{size:6,fill:"#555",rot:35,len:35});
})();
</script></body></html>
